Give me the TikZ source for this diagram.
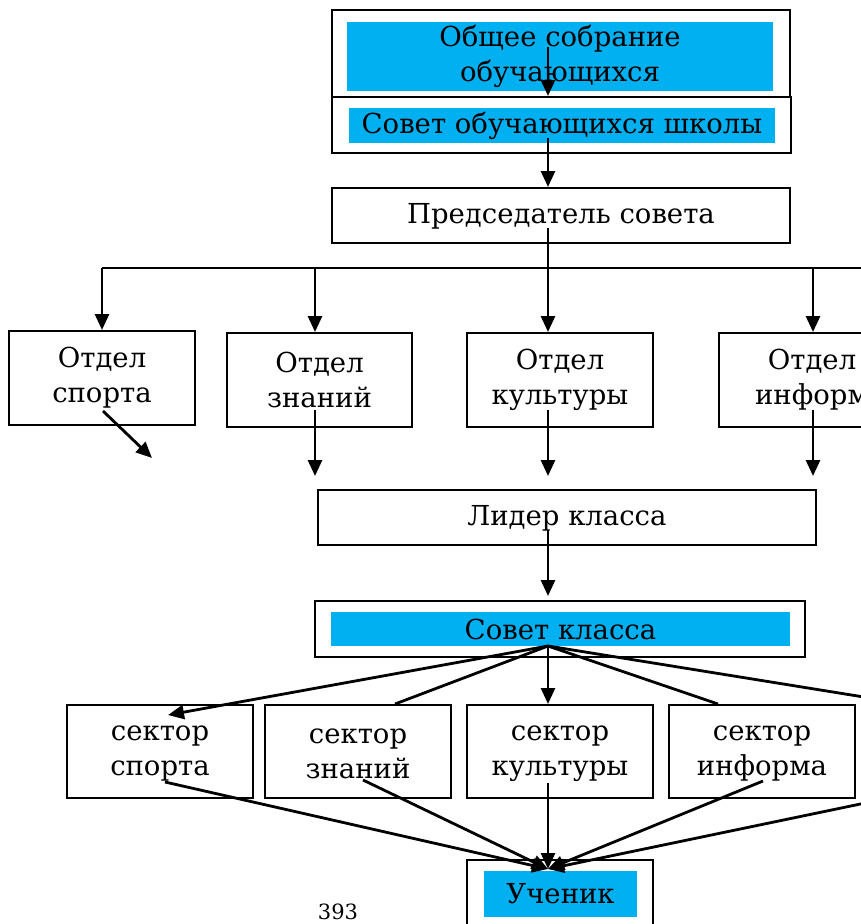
\documentclass[tikz,border=0pt]{standalone}
\usepackage{fontspec}
\setmainfont{DejaVu Serif}
\usetikzlibrary{arrows.meta}
\definecolor{skyfill}{RGB}{0,176,240}
\tikzset{
  box/.style={draw=black, line width=2pt, inner sep=0pt, fill=white},
  cyanbox/.style={fill=skyfill, draw=none, inner sep=0pt, align=center},
  txt/.style={font=\fontsize{27.5}{35}\selectfont, align=center},
  conn/.style={line width=2.8pt},
  arr/.style={line width=2.8pt, -{Triangle[length=16pt,width=14pt]}},
}
\begin{document}
\begin{tikzpicture}[x=1pt,y=-1pt]
\useasboundingbox[fill=white] (0,0) rectangle (860,924);
% top boxes
\node[box, minimum width=458pt, minimum height=88pt] (b1) at (561,54) {};
\node[cyanbox, txt, minimum width=426pt, minimum height=69pt] (b1in) at (560,56) {Общее собрание\\обучающихся};
\node[box, minimum width=459pt, minimum height=56pt] (b2) at (561.5,125) {};
\node[cyanbox, txt, minimum width=426pt, minimum height=35pt] (b2in) at (562,125.5) {Совет обучающихся школы};
\node[box, txt, minimum width=458pt, minimum height=55pt, text depth=5pt] (b3) at (561,215.5) {Председатель совета};
% departments
\node[box, txt, minimum width=186pt, minimum height=94pt] (d1) at (102,378) {Отдел\\спорта};
\node[box, txt, minimum width=185pt, minimum height=94pt] (d2) at (319.5,380) {Отдел\\знаний};
\node[box, txt, minimum width=186pt, minimum height=94pt] (d3) at (560,380) {Отдел\\культуры};
\node[box, txt, minimum width=186pt, minimum height=94pt] (d4) at (812,380) {Отдел\\информ};
% leader
\node[box, txt, minimum width=498pt, minimum height=55pt, text depth=5pt] (lead) at (567,517.5) {Лидер класса};
\node[box, minimum width=490pt, minimum height=56pt] (sk) at (560,629) {};
\node[cyanbox, txt, minimum width=459pt, minimum height=34pt] (skin) at (560.5,629) {Совет класса};
% sectors
\node[box, txt, minimum width=186pt, minimum height=93pt] (s1) at (160,751.5) {};
\node[txt, inner sep=0pt] (s1t) at (160,754) {сектор\\спорта};
\node[box, txt, minimum width=186pt, minimum height=93pt] (s2) at (358,751.5) {};
\node[txt, inner sep=0pt] (s2t) at (358,754) {сектор\\знаний};
\node[box, txt, minimum width=186pt, minimum height=93pt] (s3) at (560,751.5) {};
\node[txt, inner sep=0pt] (s3t) at (560,754) {сектор\\культуры};
\node[box, txt, minimum width=186pt, minimum height=93pt] (s4) at (762,751.5) {};
\node[txt, inner sep=0pt] (s4t) at (762,754) {сектор\\информа};
% pupil
\node[box, minimum width=186pt, minimum height=120pt] (uch) at (560,920) {};
\node[cyanbox, txt, minimum width=153pt, minimum height=46pt] (uchin) at (560.5,894) {Ученик};
\node[font=\fontsize{21}{22}\selectfont, inner sep=0pt] (pg) at (338,912) {393};
% coordinates
\coordinate (a1) at (548,47);
\coordinate (a2) at (548,138);
\coordinate (a3) at (548,228);
\coordinate (bar) at (548,268);
\coordinate (barL) at (102,268);
\coordinate (barR) at (870,268);
\coordinate (t2) at (315,268);
\coordinate (t4) at (813,268);
\coordinate (e1) at (103,411);
\coordinate (e1end) at (152,458);
\coordinate (e2) at (315,410);
\coordinate (e3) at (548,410);
\coordinate (e4) at (813,410);
\coordinate (l1) at (548,530);
\coordinate (fan) at (548,646);
\coordinate (fanR) at (870,698);
\coordinate (u1) at (165,782);
\coordinate (u2) at (363,780);
\coordinate (u3) at (548,783);
\coordinate (u4) at (763,781);
\coordinate (u5) at (870,802);
\coordinate (tip) at (548,869);
% connectors
\draw[arr] (a1) -- (a1 |- b2.north);
\draw[arr] (a2) -- (a2 |- b3.north);
\draw[conn] (a3) -- (bar);
\draw[conn] (barL) -- (barR);
\draw[arr] (barL) -- (d1.north);
\draw[arr] (t2) -- (t2 |- d2.north);
\draw[arr] (bar) -- (bar |- d3.north);
\draw[arr] (t4) -- (t4 |- d4.north);
\draw[arr] (e1) -- (e1end);
\draw[arr] (e2) -- ([yshift=13pt]e2 |- lead.north);
\draw[arr] (e3) -- ([yshift=13pt]e3 |- lead.north);
\draw[arr] (e4) -- ([yshift=13pt]e4 |- lead.north);
\draw[arr] (l1) -- ([yshift=4pt]l1 |- sk.north);
\draw[arr] (fan) -- ([xshift=8pt,yshift=-11pt]s1.north);
\draw[conn] (fan) -- (s2.north -| 395,0);
\draw[arr] (fan) -- (fan |- s3.north);
\draw[conn] (fan) -- (s4.north -| 718,0);
\draw[conn] (fan) -- (fanR);
\draw[arr] (u1) -- (tip);
\draw[arr] (u2) -- (tip);
\draw[arr] (u3) -- (tip);
\draw[arr] (u4) -- (tip);
\draw[arr] (u5) -- (tip);
\end{tikzpicture}
\end{document}
